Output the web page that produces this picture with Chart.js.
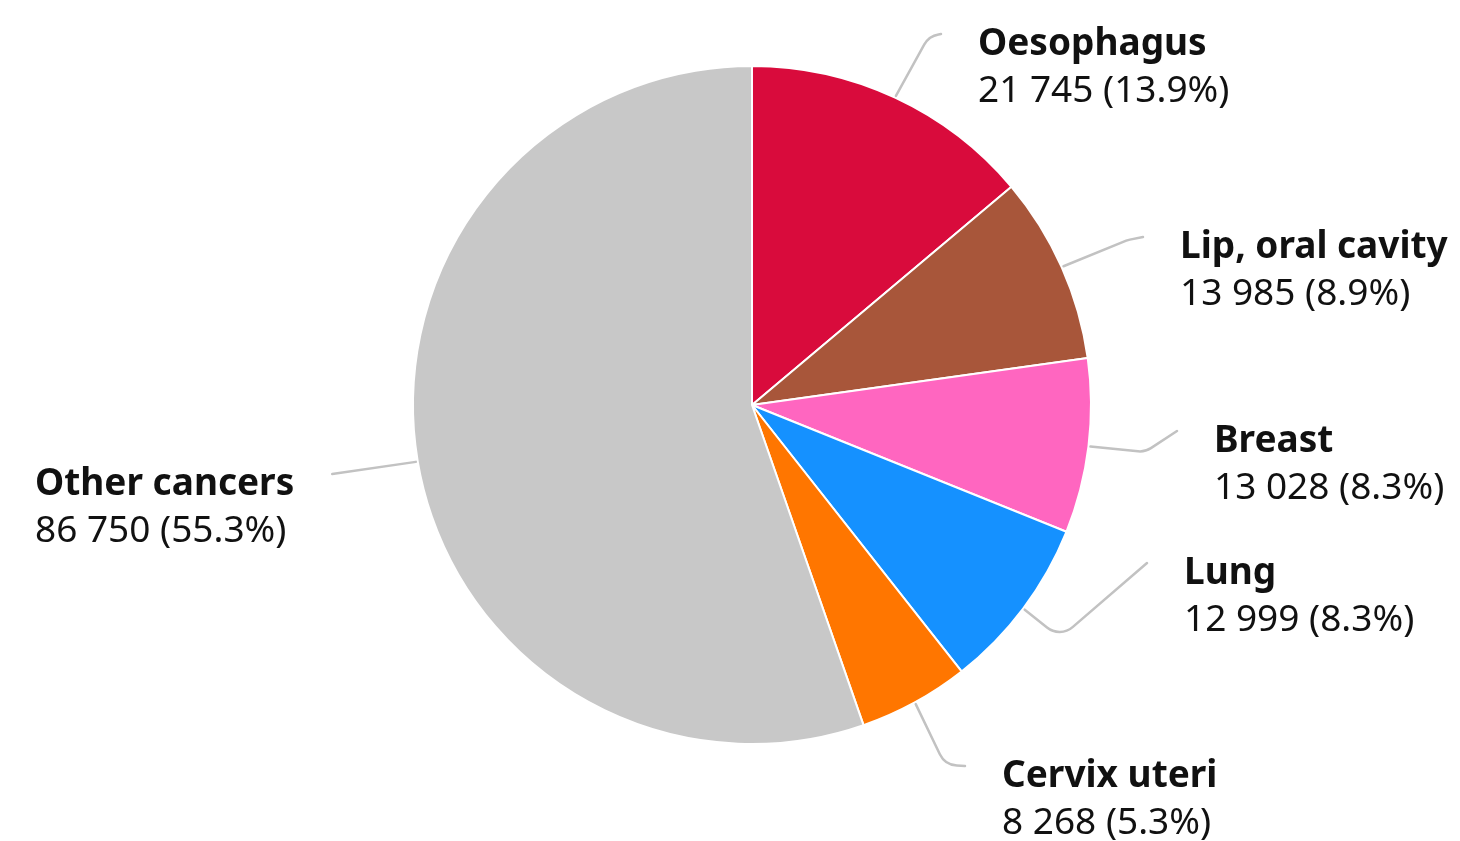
<!DOCTYPE html>
<html lang="en">
<head>
  <meta charset="UTF-8">
  <title>Cancer cases</title>
  <style>
    body {
      margin: 0;
      background-color: #fff;
    }
    .wrap {
      width: 1460px;
      height: 841px;
    }
  </style>
</head>
<body>
  <div class="wrap">
    <canvas id="pieChart" width="1460" height="841"></canvas>
  </div>

  <script src="https://cdn.jsdelivr.net/npm/chart.js"></script>
  <script>
    // data
    const labels = ['Oesophagus', 'Lip, oral cavity', 'Breast', 'Lung', 'Cervix uteri', 'Other cancers'];
    const cases = [21745, 13985, 13028, 12999, 8268, 86750];
    const colors = ['#d90b3c', '#a8563a', '#ff66c0', '#1591ff', '#ff7600', '#c8c8c8'];

    // label placement: text left x, first baseline, side of the pie, bend of the leader line
    const labelPos = [
      { x: 978, y: 55, side: 'right', crook: [929, 36] },
      { x: 1180, y: 258, side: 'right', crook: [1128, 240] },
      { x: 1214, y: 452, side: 'right', crook: [1145, 452] },
      { x: 1184, y: 584, side: 'right', crook: [1060, 638] },
      { x: 1002, y: 787, side: 'right', crook: [945, 765] },
      { x: 35, y: 495, side: 'left', crook: null }
    ];

    const total = cases.reduce((a, b) => a + b, 0);
    const fmt = v => String(v).replace(/\B(?=(\d{3})+(?!\d))/g, ' ');

    const labelPlugin = {
      id: 'pieLabels',
      afterDatasetsDraw(chart) {
        const ctx = chart.ctx;
        const meta = chart.getDatasetMeta(0);
        meta.data.forEach((arc, i) => {
          const p = arc.getProps(['x', 'y', 'startAngle', 'endAngle', 'outerRadius'], true);
          const mid = (p.startAngle + p.endAngle) / 2;
          const r = p.outerRadius + 2;
          const sx = p.x + Math.cos(mid) * r;
          const sy = p.y + Math.sin(mid) * r;
          const pos = labelPos[i];

          ctx.save();
          ctx.font = 'bold 37px "Noto Sans"';
          const w = ctx.measureText(labels[i]).width;
          const ex = pos.side === 'right' ? pos.x - 37 : pos.x + w + 38;
          const ey = pos.y - 21;

          // leader line
          ctx.strokeStyle = '#c2c2c2';
          ctx.lineWidth = 2.5;
          ctx.lineJoin = 'round';
          ctx.lineCap = 'round';
          ctx.beginPath();
          ctx.moveTo(sx, sy);
          if (pos.crook) {
            ctx.arcTo(pos.crook[0], pos.crook[1], ex, ey, 20);
          }
          ctx.lineTo(ex, ey);
          ctx.stroke();

          // text
          ctx.fillStyle = '#111';
          ctx.textAlign = 'left';
          ctx.textBaseline = 'alphabetic';
          ctx.fillText(labels[i], pos.x, pos.y);
          ctx.font = '37px "Noto Sans"';
          const pct = (cases[i] / total * 100).toFixed(1);
          ctx.fillText(fmt(cases[i]) + ' (' + pct + '%)', pos.x, pos.y + 47);
          ctx.restore();
        });
      }
    };

    const ctx = document.getElementById('pieChart').getContext('2d');
    new Chart(ctx, {
      type: 'pie',
      data: {
        labels: labels,
        datasets: [{
          data: cases,
          backgroundColor: colors,
          borderColor: '#fff',
          borderWidth: 2
        }]
      },
      options: {
        responsive: false,
        animation: false,
        layout: {
          padding: { left: 412, right: 368, top: 65, bottom: 96 }
        },
        plugins: {
          legend: { display: false },
          tooltip: { enabled: false }
        }
      },
      plugins: [labelPlugin]
    });
  </script>
</body>
</html>
